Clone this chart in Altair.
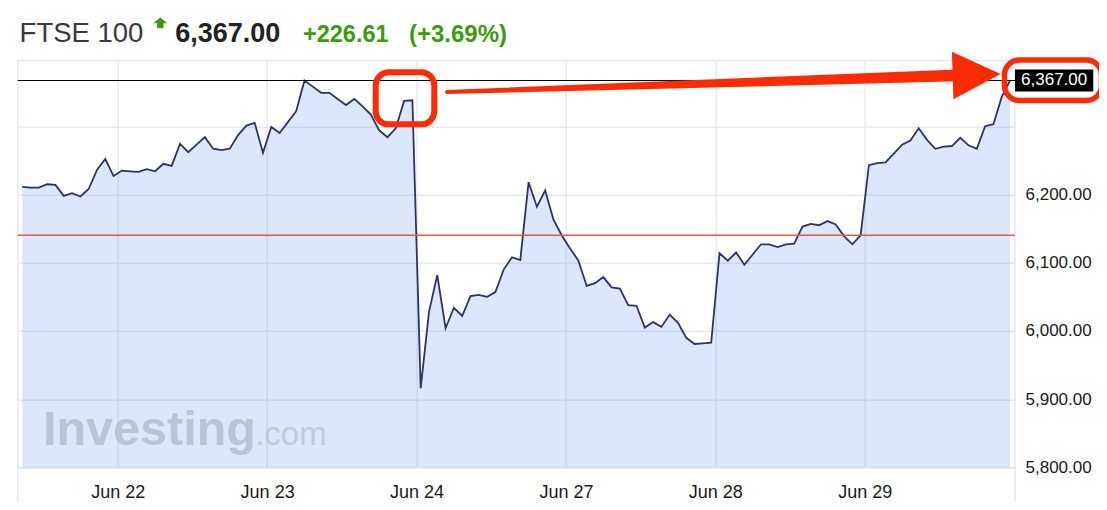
import altair as alt
import pandas as pd

# ---------------- data (30-minute FTSE 100 prices) -------------
values = [
    6211, 6210, 6210, 6215, 6214, 6198, 6202, 6197, 6208, 6236, 6252, 6227,
    6235, 6234, 6233, 6237, 6234, 6245, 6242, 6274, 6262, 6273, 6284, 6267,
    6265, 6267, 6287, 6301, 6305, 6261,
    6299, 6290, 6306, 6322, 6367, 6358, 6349, 6349, 6340, 6331, 6340, 6329,
    6317, 6294, 6284, 6297, 6337, 6338,
    5916, 6028, 6082, 6004, 6034, 6022, 6051, 6053, 6050, 6057, 6090, 6108,
    6104, 6218, 6182, 6206, 6163, 6140,
    6121, 6103, 6066, 6070, 6079, 6064, 6062, 6038, 6037, 6005, 6013, 6006,
    6024, 6012, 5990, 5981, 5982, 5983,
    6114, 6103, 6115, 6097, 6112, 6127, 6127, 6123, 6127, 6128, 6153, 6157,
    6155, 6161, 6156, 6139, 6127, 6140,
    6243, 6246, 6247, 6260, 6273, 6279, 6297, 6280, 6267, 6270, 6271, 6283,
    6272, 6267, 6300, 6303, 6343, 6367,
]
day_labels = ["Jun 22", "Jun 23", "Jun 24", "Jun 27", "Jun 28", "Jun 29"]
day_ticks = [11.5, 29.5, 47.5, 65.5, 83.5, 101.5]
y_ticks = [5800, 5900, 6000, 6100, 6200, 6300]
y_labelled_max = 6200
index_name = "FTSE 100"
last_price = 6367.00
prev_close = 6140.39
change_text = "+226.61"
change_pct_text = "(+3.69%)"

# ---------------- layout / style ----------------
X_DOMAIN = [-0.55, 119.6]
Y_DOMAIN = [5800, 6396]
PLOT_W, PLOT_H = 997.3, 406.8
FONT = "Liberation Sans"
NAVY = "#2e3266"
RED = "#fa2c05"
GREEN = "#3b9b0f"
GRID = "#e6e9ef"

df = pd.DataFrame({"i": list(range(len(values))), "v": values})
one = pd.DataFrame({"k": [0]})

label_expr = " : ".join(
    f"datum.value == {t} ? '{l}'" for t, l in zip(day_ticks, day_labels)
) + " : ''"
y_label_expr = f"datum.value <= {y_labelled_max} ? format(datum.value, ',.2f') : ''"

xs = alt.Scale(domain=X_DOMAIN, nice=False, zero=False)
ys = alt.Scale(domain=Y_DOMAIN, nice=False, zero=False)

x_main = alt.X(
    "i:Q", scale=xs, title=None,
    axis=alt.Axis(values=day_ticks, labelExpr=label_expr, grid=True,
                  gridColor=GRID, gridWidth=1.5, ticks=False, tickSize=0,
                  domain=False, labelPadding=16, labelFontSize=18,
                  labelFont=FONT, labelColor="#1a1a1a", labelFlush=False,
                  labelOverlap=False),
)
y_main = alt.Y(
    "v:Q", scale=ys, title=None,
    axis=alt.Axis(orient="right", values=y_ticks, labelExpr=y_label_expr,
                  grid=True, gridColor=GRID, gridWidth=1.5, ticks=False,
                  tickSize=0, domain=False, labelPadding=10, labelFontSize=17,
                  labelFont=FONT, labelColor="#1a1a1a", labelFlush=False,
                  labelOverlap=False),
)

base = alt.Chart(df)
area = base.mark_area(color="#4b8ceb", opacity=0.2).encode(
    x=x_main, y=y_main, y2=alt.Y2(datum=Y_DOMAIN[0]))
line = base.mark_line(color=NAVY, strokeWidth=1.8).encode(
    x=alt.X("i:Q", title=None), y=alt.Y("v:Q", title=None))

prev_rule = alt.Chart(one).mark_rule(color="#e5584c", strokeWidth=1.5).encode(
    y=alt.Y(datum=prev_close))
last_rule = alt.Chart(one).mark_rule(color="#000000", strokeWidth=1.2).encode(
    y=alt.Y(datum=last_price))

# frame extensions below the plot (axis band borders)
frame_df = pd.DataFrame({"i": X_DOMAIN, "v": [Y_DOMAIN[0]] * 2, "v2": [5737] * 2})
frame = alt.Chart(frame_df).mark_rule(color=GRID, strokeWidth=1.5).encode(
    x=alt.X("i:Q", title=None), y=alt.Y("v:Q", title=None), y2="v2:Q")

# price badge on the right axis
badge_df = pd.DataFrame({"i": [119.6], "i2": [129.03], "v": [6351.0], "v2": [6383.0]})
badge = alt.Chart(badge_df).mark_rect(color="#000000").encode(
    x=alt.X("i:Q", title=None), x2="i2:Q", y=alt.Y("v:Q", title=None), y2="v2:Q")
badge_text = alt.Chart(one).mark_text(
    align="left", baseline="middle", color="white", font=FONT, fontSize=17,
    text=f"{last_price:,.2f}").encode(
    x=alt.X(datum=120.33), y=alt.Y(datum=last_price))

# red hand-drawn annotations
ring_df = pd.DataFrame({
    "i": [42.58, 118.33], "i2": [49.64, 130.02],
    "v": [6302.8, 6337.7], "v2": [6379.0, 6397.0],
})
ring1 = alt.Chart(ring_df.iloc[[0]]).mark_rect(
    fillOpacity=0, stroke=RED, strokeWidth=6, cornerRadius=13).encode(
    x=alt.X("i:Q", title=None), x2="i2:Q", y=alt.Y("v:Q", title=None), y2="v2:Q")
ring2 = alt.Chart(ring_df.iloc[[1]]).mark_rect(
    fillOpacity=0, stroke=RED, strokeWidth=5.5, cornerRadius=15).encode(
    x=alt.X("i:Q", title=None), x2="i2:Q", y=alt.Y("v:Q", title=None), y2="v2:Q")

shaft_df = pd.DataFrame({"i": [51.17, 112.73], "v": [6350.1, 6374.5], "s": [4, 12]})
shaft = alt.Chart(shaft_df).mark_trail(color=RED).encode(
    x=alt.X("i:Q", title=None), y=alt.Y("v:Q", title=None),
    size=alt.Size("s:Q", scale=None, legend=None))
head = alt.Chart(one).mark_point(
    shape="M1,0L-1,-0.99L-1,0.99Z", size=2304, angle=358.14, filled=True,
    color=RED, opacity=1).encode(
    x=alt.X(datum=114.98), y=alt.Y(datum=6375.3))

# watermark
wm1 = alt.Chart(one).mark_text(
    text="Investing", align="left", baseline="alphabetic", font=FONT,
    fontSize=48.5, fontWeight="bold", color="#b3bccb", opacity=0.8).encode(
    x=alt.value(25.3), y=alt.value(384.3))
wm2 = alt.Chart(one).mark_text(
    text=".com", align="left", baseline="alphabetic", font=FONT,
    fontSize=33, color="#bcc4d2", opacity=0.8).encode(
    x=alt.value(237.5), y=alt.value(384.3))

# header
h1 = alt.Chart(one).mark_text(
    text=index_name, align="left", baseline="alphabetic", font=FONT,
    fontSize=27.5, color="#3a3a3a").encode(x=alt.value(1.9), y=alt.value(-18.7))
h_arrow = alt.Chart(one).mark_point(
    shape="M0,-0.75L1,0.05L0.45,0.05L0.45,0.75L-0.45,0.75L-0.45,0.05L-1,0.05Z",
    size=200, filled=True, color=GREEN, opacity=1).encode(
    x=alt.value(142.6), y=alt.value(-37.8))
h2 = alt.Chart(one).mark_text(
    text=f"{last_price:,.2f}", align="left", baseline="alphabetic", font=FONT,
    fontSize=27, fontWeight="bold", color="#222222").encode(
    x=alt.value(157.5), y=alt.value(-18.7))
h3 = alt.Chart(one).mark_text(
    text=change_text, align="left", baseline="alphabetic", font=FONT,
    fontSize=23.5, fontWeight="bold", color=GREEN).encode(
    x=alt.value(285.3), y=alt.value(-18.7))
h4 = alt.Chart(one).mark_text(
    text=change_pct_text, align="left", baseline="alphabetic", font=FONT,
    fontSize=24, fontWeight="bold", color=GREEN).encode(
    x=alt.value(391.3), y=alt.value(-18.7))

chart = alt.layer(
    area, frame, wm1, wm2, line, prev_rule, last_rule, badge, badge_text,
    ring1, ring2, shaft, head, h1, h_arrow, h2, h3, h4,
).properties(
    width=PLOT_W, height=PLOT_H,
    autosize=alt.AutoSizeParams(type="none"),
    padding={"left": 9.7, "top": 52.7, "right": 84, "bottom": 34.5},
    background="white",
).configure_view(stroke=GRID, strokeWidth=1.5)

chart.save("out.html", embed_options={"renderer": "svg", "actions": False})
